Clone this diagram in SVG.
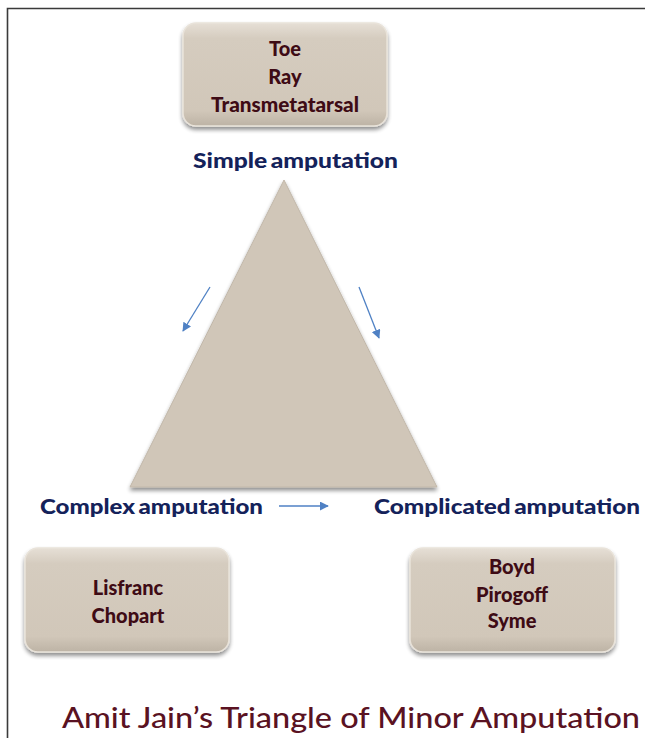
<svg xmlns="http://www.w3.org/2000/svg" width="645" height="738" viewBox="0 0 645 738">
<defs>
<linearGradient id="boxg" x1="0" y1="0" x2="0" y2="1">
<stop offset="0" stop-color="#e6dfd6"/>
<stop offset="0.15" stop-color="#d5ccbf"/>
<stop offset="0.85" stop-color="#d1c7b9"/>
<stop offset="1" stop-color="#bdb3a5"/>
</linearGradient>
<filter id="sh" x="-10%" y="-10%" width="120%" height="130%">
<feGaussianBlur in="SourceAlpha" stdDeviation="2"/>
<feOffset dx="0" dy="3" result="b"/>
<feComponentTransfer><feFuncA type="linear" slope="0.45"/></feComponentTransfer>
<feMerge><feMergeNode/><feMergeNode in="SourceGraphic"/></feMerge>
</filter>
<marker id="ah" viewBox="0 0 10 10" refX="9" refY="5" markerWidth="9" markerHeight="9" orient="auto" markerUnits="userSpaceOnUse">
<path d="M0,0 L10,5 L0,10 z" fill="#4f81c4"/>
</marker>
<style>
.box{fill:url(#boxg);stroke:#e9e3da;stroke-width:1.5;filter:url(#sh)}
.bt{font-family:Lato,"Open Sans",sans-serif;font-weight:900;font-size:20px;fill:#3e0b15;text-anchor:middle}
.hd{font-family:Lato,"Open Sans",sans-serif;font-weight:900;font-size:21px;fill:#14225a;word-spacing:-2px}
.conn{stroke:#4f81c4;stroke-width:1.3;fill:none;marker-end:url(#ah)}
.title{font-family:Lato,"Open Sans",sans-serif;font-weight:500;font-size:28px;fill:#5a1222}
</style>
</defs>
<rect x="0" y="0" width="645" height="738" fill="#ffffff"/>
<path d="M7.5,738 L7.5,8.5 L645,8.5" fill="none" stroke="#3a3a3a" stroke-width="1.6"/>

<g id="triangle">
<polygon points="284,180 130,487 437,487" fill="#d0c6b8" stroke="#c2b8aa" stroke-width="1" filter="url(#sh)"/>
<text class="hd" x="193" y="168" textLength="205" lengthAdjust="spacingAndGlyphs">Simple amputation</text>
<text class="hd" x="40" y="514" textLength="223" lengthAdjust="spacingAndGlyphs">Complex amputation</text>
<text class="hd" x="374" y="514" textLength="266" lengthAdjust="spacingAndGlyphs">Complicated amputation</text>
</g>

<g id="node-simple">
<rect class="box" x="183" y="23" width="204" height="103" rx="13"/>
<text class="bt" x="285" y="56">Toe</text>
<text class="bt" x="285" y="84">Ray</text>
<text class="bt" x="285" y="112" textLength="148" lengthAdjust="spacingAndGlyphs">Transmetatarsal</text>
</g>

<g id="node-complex">
<rect class="box" x="25" y="548" width="204" height="104" rx="13"/>
<text class="bt" x="128" y="595">Lisfranc</text>
<text class="bt" x="128" y="623">Chopart</text>
</g>

<g id="node-complicated">
<rect class="box" x="410" y="548" width="205" height="104" rx="13"/>
<text class="bt" x="512" y="574">Boyd</text>
<text class="bt" x="512" y="602">Pirogoff</text>
<text class="bt" x="512" y="628">Syme</text>
</g>

<g id="connectors">
<line class="conn" x1="210" y1="287" x2="183" y2="331"/>
<line class="conn" x1="359" y1="287" x2="379" y2="338"/>
<line class="conn" x1="279" y1="506" x2="328" y2="506"/>
</g>

<text class="title" x="62" y="728" textLength="578" lengthAdjust="spacingAndGlyphs">Amit Jain’s Triangle of Minor Amputation</text>
</svg>
